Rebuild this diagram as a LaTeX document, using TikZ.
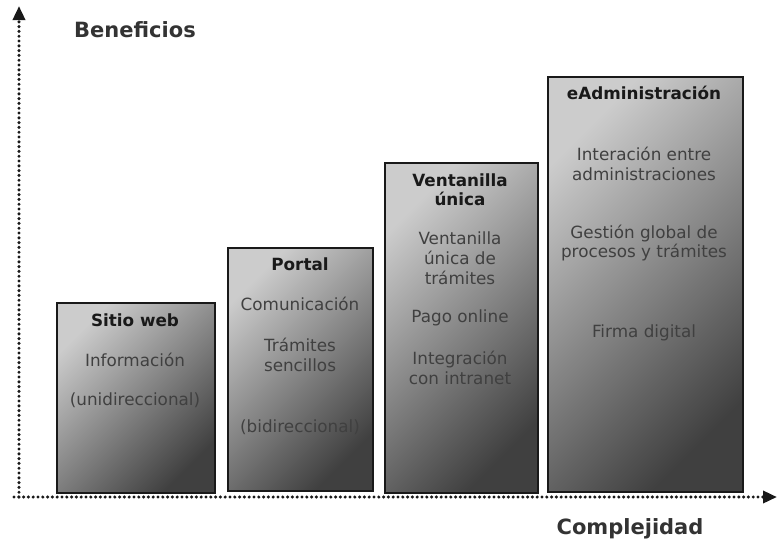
\documentclass[tikz,border=0pt]{standalone}
\usepackage{fontspec}
\setmainfont{DejaVu Sans}
\usetikzlibrary{arrows.meta}
\begin{document}
\begin{tikzpicture}[x=1pt,y=-1pt,
 stage/.style={draw=black!90, line width=1.7pt, top color=black!20, bottom color=black!75, shading angle=45, inner sep=0pt, anchor=north west},
 ttl/.style={font=\bfseries\fontsize{16.8}{19.5}\selectfont, text=black!90, align=center, inner sep=0pt},
 txt/.style={font=\fontsize{16.8}{19.8}\selectfont, text=black!75, align=center, inner sep=0pt},
 axislabel/.style={font=\bfseries\fontsize{21}{23}\selectfont, text=black!80, inner sep=0pt},
 axisline/.style={draw=black!90, line width=3.4pt, line cap=round, dash pattern=on 0pt off 4.8pt, -{Triangle[length=14pt,width=12pt]}}
]
\useasboundingbox (0,0) rectangle (778,544);
% stages
\node[stage, minimum width=158pt, minimum height=190pt] (s1) at (56,302) {};
\node[stage, minimum width=145pt, minimum height=243pt] (s2) at (227,247) {};
\node[stage, minimum width=153pt, minimum height=330pt] (s3) at (384,162) {};
\node[stage, minimum width=195pt, minimum height=415pt] (s4) at (547,76) {};
% axes
\coordinate (o) at (19,497);
\coordinate (ytip) at (19,6);
\coordinate (xstart) at (14,497);
\coordinate (xtip) at (777,497);
\draw[axisline] (o) -- (ytip);
\draw[axisline] (xstart) -- (xtip);
\node[axislabel] (ben) at (135,30) {Beneficios};
\node[axislabel] (comp) at (630,529) {Complejidad};
% stage 1
\node[ttl] (t1) at (135,320) {Sitio web};
\node[txt] (a1) at (135,360) {Información};
\node[txt] (b1) at (135,400) {(unidireccional)};
% stage 2
\node[ttl] (t2) at (300,264) {Portal};
\node[txt] (a2) at (300,304) {Comunicación};
\node[txt] (b2) at (300,354.5) {Trámites\\sencillos};
\node[txt] (c2) at (300,427) {(bidireccional)};
% stage 3
\node[ttl] (t3) at (460,189.5) {Ventanilla\\única};
\node[txt] (a3) at (460,258) {Ventanilla\\única de\\trámites};
\node[txt] (b3) at (460,318) {Pago online};
\node[txt] (c3) at (460,367.5) {Integración\\con intranet};
% stage 4
\node[ttl] (t4) at (644,93) {eAdministración};
\node[txt] (a4) at (644,163.5) {Interación entre\\administraciones};
\node[txt] (b4) at (644,243) {Gestión global de\\procesos y trámites};
\node[txt] (c4) at (644,333) {Firma digital};
\end{tikzpicture}
\end{document}
